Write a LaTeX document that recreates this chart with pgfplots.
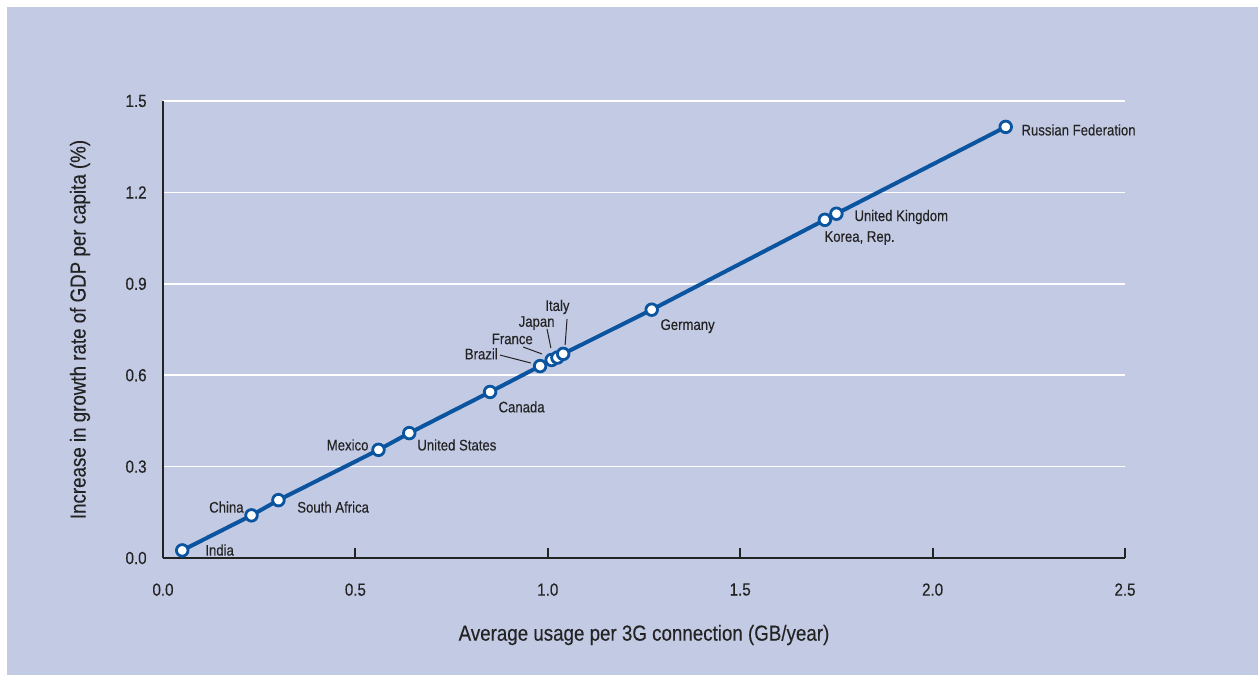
\documentclass[border=0pt]{standalone}
\usepackage{fontspec}
\setmainfont{Liberation Sans}[FakeStretch=0.86,FakeBold=0.25]
\usepackage{pgfplots}
\pgfplotsset{compat=1.18}
\definecolor{bg}{RGB}{195,202,228}
\definecolor{ln}{RGB}{10,84,160}
\definecolor{tx}{RGB}{35,35,35}
\begin{document}
\begin{tikzpicture}[x=1pt,y=1pt]
\fill[white] (0,0) rectangle (629,337.5);
\fill[bg] (3.5,0) rectangle (629,334);
\path[use as bounding box] (0,0) rectangle (629,337.5);
\begin{axis}[
  at={(81.5pt,58.5pt)}, anchor=south west,
  scale only axis, width=481pt, height=228.5pt,
  xmin=0, xmax=2.5, ymin=0, ymax=1.5,
  axis x line*=bottom, axis y line*=left,
  axis line style={draw=tx, line width=1pt},
  xtick={0,0.5,1,1.5,2,2.5},
  ytick={0,0.3,0.6,0.9,1.2,1.5},
  tick align=inside,
  major x tick style={draw=tx, line width=1pt},
  major y tick style={draw=none},
  major tick length=5pt,
  ymajorgrids, grid style={white, line width=0.8pt},
  xticklabel style={inner sep=0pt, yshift=-12.5pt, font=\fontsize{8.8}{10}\selectfont, text=tx},
  yticklabel style={inner sep=0pt, xshift=-8pt, font=\fontsize{8.8}{10}\selectfont, text=tx},
  /pgf/number format/assume math mode=true,
  xticklabel={\pgfmathprintnumber[fixed,fixed zerofill,precision=1]{\tick}},
  yticklabel={\pgfmathprintnumber[fixed,fixed zerofill,precision=1]{\tick}},
  xlabel={Average usage per 3G connection (GB/year)},
  ylabel={Increase in growth rate of GDP per capita (\%)},
  every axis x label/.style={at={(axis description cs:0.5,-0.1685)}, anchor=center, font=\fontsize{10.9}{12}\selectfont, text=tx},
  every axis y label/.style={at={(axis description cs:-0.0863,0.5)}, anchor=center, rotate=90, font=\fontsize{10.9}{12}\selectfont, text=tx},
  clip=false,
]
\addplot[ln, line width=2pt, mark=*, mark size=2.9pt, mark options={fill=white, draw=ln, line width=1.4pt}] coordinates {
  (0.05,0.025) (0.23,0.14) (0.30,0.19) (0.56,0.355) (0.64,0.41) (0.85,0.545)
  (0.98,0.63) (1.01,0.65) (1.025,0.658) (1.04,0.67) (1.27,0.815)
  (1.72,1.11) (1.75,1.13) (2.19,1.415)
};
\begin{scope}[every node/.style={inner sep=0pt, font=\fontsize{7.65}{9}\selectfont, text=tx}]
\node[anchor=west] at (axis cs:0.109,0.026) {India};
\node[anchor=east] at (axis cs:0.2105,0.167) {China};
\node[anchor=west] at (axis cs:0.348,0.167) {South Africa};
\node[anchor=east] at (axis cs:0.535,0.371) {Mexico};
\node[anchor=west] at (axis cs:0.660,0.371) {United States};
\node[anchor=west] at (axis cs:0.871,0.496) {Canada};
\node[anchor=west] at (axis cs:1.292,0.761) {Germany};
\node[anchor=west] at (axis cs:1.718,1.050) {Korea, Rep.};
\node[anchor=west] at (axis cs:1.796,1.119) {United Kingdom};
\node[anchor=west] at (axis cs:2.230,1.405) {Russian Federation};
\node[anchor=east] at (axis cs:0.871,0.670) {Brazil};
\node[anchor=east] at (axis cs:0.962,0.719) {France};
\node[anchor=center] at (axis cs:0.971,0.771) {Japan};
\node[anchor=center] at (axis cs:1.025,0.824) {Italy};
\end{scope}
\draw[tx, line width=0.5pt] (axis cs:0.876,0.666) -- (axis cs:0.956,0.640);
\draw[tx, line width=0.5pt] (axis cs:0.936,0.6925) -- (axis cs:0.985,0.6696);
\draw[tx, line width=0.5pt] (axis cs:0.998,0.7516) -- (axis cs:1.008,0.6893);
\draw[tx, line width=0.5pt] (axis cs:1.050,0.7844) -- (axis cs:1.045,0.6991);
\end{axis}
\end{tikzpicture}
\end{document}
